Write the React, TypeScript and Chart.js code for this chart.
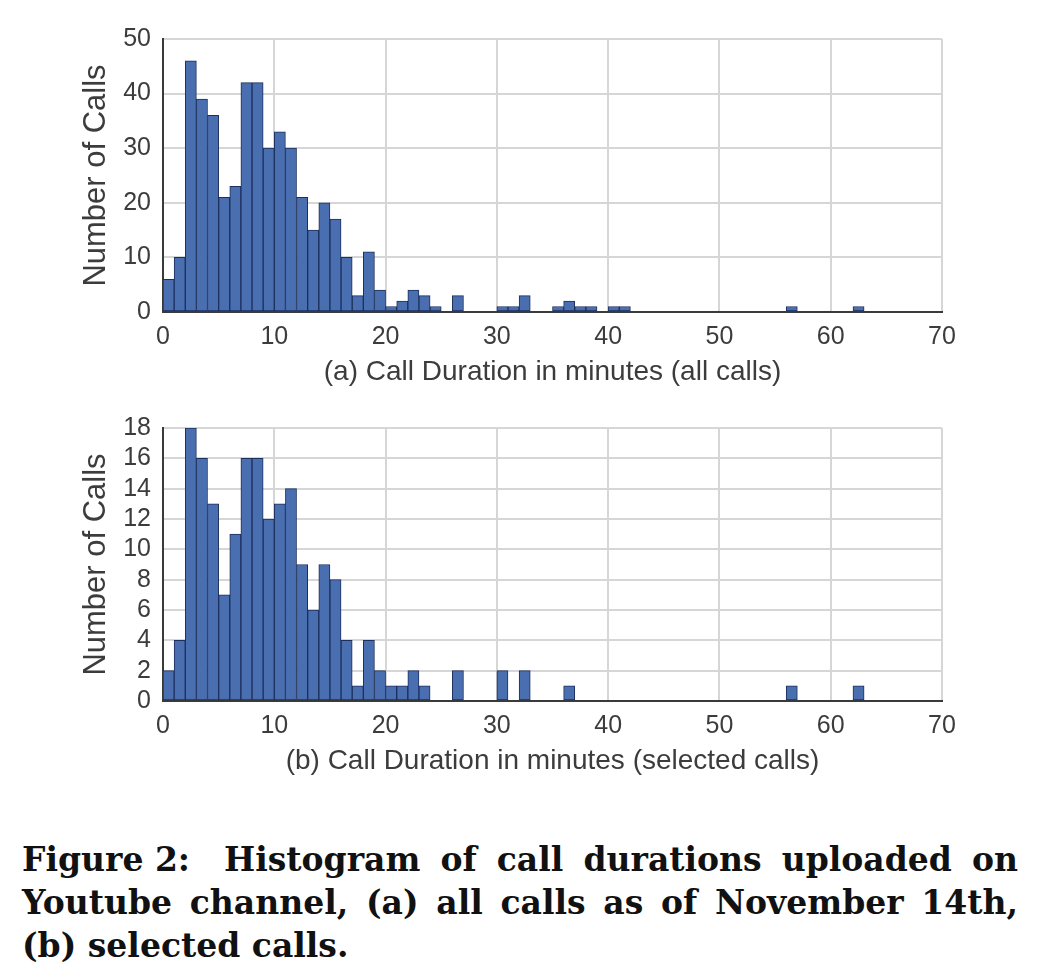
import React, { useEffect, useRef } from "react";
import { Chart, registerables } from "chart.js";

Chart.register(...registerables);

// One-minute bins: start minute of each bin
const BIN_START = [
  0, 1, 2, 3, 4, 5, 6, 7, 8, 9,
  10, 11, 12, 13, 14, 15, 16, 17, 18, 19,
  20, 21, 22, 23, 24, 25, 26, 27, 28, 29,
  30, 31, 32, 33, 34, 35, 36, 37, 38, 39,
  40, 41, 42, 43, 44, 45, 46, 47, 48, 49,
  50, 51, 52, 53, 54, 55, 56, 57, 58, 59,
  60, 61, 62, 63, 64, 65, 66, 67, 68, 69,
];

// (a) all calls
const CALLS_ALL = [
  6, 10, 46, 39, 36, 21, 23, 42, 42, 30,
  33, 30, 21, 15, 20, 17, 10, 3, 11, 4,
  1, 2, 4, 3, 1, 0, 3, 0, 0, 0,
  1, 1, 3, 0, 0, 1, 2, 1, 1, 0,
  1, 1, 0, 0, 0, 0, 0, 0, 0, 0,
  0, 0, 0, 0, 0, 0, 1, 0, 0, 0,
  0, 0, 1, 0, 0, 0, 0, 0, 0, 0,
];

// (b) selected calls
const CALLS_SELECTED = [
  2, 4, 18, 16, 13, 7, 11, 16, 16, 12,
  13, 14, 9, 6, 9, 8, 4, 1, 4, 2,
  1, 1, 2, 1, 0, 0, 2, 0, 0, 0,
  2, 0, 2, 0, 0, 0, 1, 0, 0, 0,
  0, 0, 0, 0, 0, 0, 0, 0, 0, 0,
  0, 0, 0, 0, 0, 0, 1, 0, 0, 0,
  0, 0, 1, 0, 0, 0, 0, 0, 0, 0,
];

const X_MIN = 0;
const X_MAX = 70;
const X_STEP = 10;

const Y_MAX_ALL = 50;
const Y_STEP_ALL = 10;
const Y_MAX_SELECTED = 18;
const Y_STEP_SELECTED = 2;

const Y_TITLE = "Number of Calls";
const X_TITLE_ALL = "(a) Call Duration in minutes (all calls)";
const X_TITLE_SELECTED = "(b) Call Duration in minutes (selected calls)";

const CAPTION_LABEL = "Figure 2:";
const CAPTION_LINES = [
  "Histogram of call durations uploaded on",
  "Youtube channel, (a) all calls as of November 14th,",
  "(b) selected calls.",
];

const FILL = "#4a6fb1";
const EDGE = "#1d2f5c";
const GRID = "#d6d6d6";
const AXIS = "#3a3a3a";
const TEXT = "#3c3c3c";
const FAMILY = "'Liberation Sans', Arial, sans-serif";

type HistProps = {
  values: number[];
  yMax: number;
  yStep: number;
  xTitle: string;
  top: number;
};

function Histogram({ values, yMax, yStep, xTitle, top }: HistProps) {
  const ref = useRef<HTMLCanvasElement | null>(null);

  useEffect(() => {
    if (!ref.current) return;
    const points = BIN_START.map((b, i) => ({ x: b + 0.5, y: values[i] }));
    const chart = new Chart(ref.current, {
      type: "bar",
      data: {
        datasets: [
          {
            data: points as any,
            backgroundColor: FILL,
            borderColor: EDGE,
            borderWidth: 1,
            barPercentage: 1,
            categoryPercentage: 1,
            borderSkipped: false,
          },
        ],
      },
      options: {
        animation: false,
        responsive: false,
        maintainAspectRatio: false,
        events: [],
        layout: { padding: { top: 39, right: 98, left: 0, bottom: 0 } },
        plugins: {
          legend: { display: false },
          tooltip: { enabled: false },
        },
        scales: {
          x: {
            type: "linear",
            min: X_MIN,
            max: X_MAX,
            offset: false,
            grid: { offset: false, color: GRID, lineWidth: 2, drawTicks: false },
            border: { color: AXIS, width: 2 },
            ticks: {
              stepSize: X_STEP,
              padding: 10,
              color: TEXT,
              maxRotation: 0,
              autoSkip: false,
              font: { family: FAMILY, size: 25 },
            },
            title: {
              display: true,
              text: xTitle,
              color: TEXT,
              font: { family: FAMILY, size: 28 },
              padding: { top: 0, bottom: 11 },
            },
            afterFit: (s: any) => {
              s.height = 88;
              s.paddingLeft = 0;
              s.paddingRight = 0;
            },
          },
          y: {
            min: 0,
            max: yMax,
            grid: { color: GRID, lineWidth: 2, drawTicks: false },
            border: { color: AXIS, width: 2 },
            ticks: {
              stepSize: yStep,
              padding: 12,
              color: TEXT,
              autoSkip: false,
              font: { family: FAMILY, size: 25 },
            },
            title: {
              display: true,
              text: Y_TITLE,
              color: TEXT,
              font: { family: FAMILY, size: 31 },
              padding: { top: 78, bottom: 0 },
            },
            afterFit: (s: any) => {
              s.width = 163;
              s.paddingTop = 0;
              s.paddingBottom = 0;
            },
          },
        },
      } as any,
    });
    return () => chart.destroy();
  }, [values, yMax, yStep, xTitle]);

  return (
    <canvas
      ref={ref}
      width={1040}
      height={400}
      style={{ position: "absolute", left: 0, top, width: 1040, height: 400 }}
    />
  );
}

export default function App() {
  const lineStyle = (justify: boolean): React.CSSProperties => ({
    textAlign: justify ? "justify" : "left",
    textAlignLast: justify ? "justify" : "left",
    whiteSpace: "normal",
  });
  return (
    <div
      style={{
        position: "absolute",
        left: 0,
        top: 0,
        width: 1040,
        height: 977,
        background: "#ffffff",
        overflow: "hidden",
      }}
    >
      <Histogram
        values={CALLS_ALL}
        yMax={Y_MAX_ALL}
        yStep={Y_STEP_ALL}
        xTitle={X_TITLE_ALL}
        top={0}
      />
      <Histogram
        values={CALLS_SELECTED}
        yMax={Y_MAX_SELECTED}
        yStep={Y_STEP_SELECTED}
        xTitle={X_TITLE_SELECTED}
        top={389}
      />
      <div
        style={{
          position: "absolute",
          left: 22,
          top: 838,
          width: 996,
          fontFamily: "'DejaVu Serif', serif",
          fontWeight: "bold",
          fontSize: 33,
          lineHeight: "43px",
          color: "#111",
        }}
      >
        <div style={{ display: "flex", alignItems: "baseline" }}>
          <span style={{ marginRight: 34, whiteSpace: "nowrap" }}>{CAPTION_LABEL}</span>
          <span style={{ flex: 1, ...lineStyle(true) }}>{CAPTION_LINES[0]}</span>
        </div>
        <div style={lineStyle(true)}>{CAPTION_LINES[1]}</div>
        <div style={lineStyle(false)}>{CAPTION_LINES[2]}</div>
      </div>
    </div>
  );
}
